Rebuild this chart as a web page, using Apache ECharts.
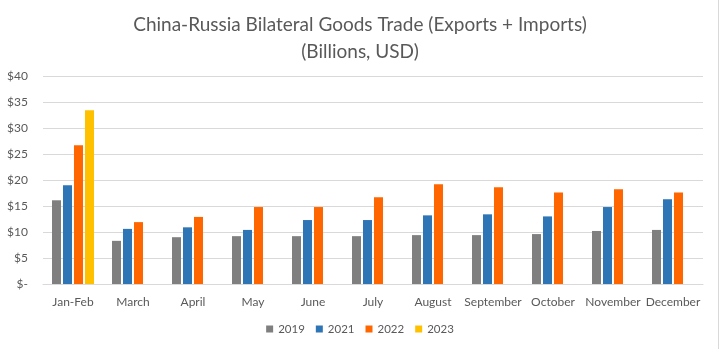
<!DOCTYPE html>
<html>
<head>
<meta charset="utf-8">
<script src="https://cdn.jsdelivr.net/npm/echarts@6/dist/echarts.min.js"></script>
<style>
  html, body { margin: 0; padding: 0; background: #fff; }
  #chart { width: 720px; height: 349px; }
</style>
</head>
<body>
<div id="chart"></div>
<script>
// Monthly China-Russia goods trade, billions of USD
const months = ['Jan-Feb', 'March', 'April', 'May', 'June', 'July', 'August', 'September', 'October', 'November', 'December'];
const trade2019 = [16.1, 8.3, 9.0, 9.2, 9.2, 9.2, 9.4, 9.4, 9.6, 10.2, 10.4];
const trade2021 = [19.0, 10.6, 10.9, 10.4, 12.3, 12.3, 13.2, 13.4, 13.0, 14.8, 16.3];
const trade2022 = [26.7, 11.9, 12.9, 14.8, 14.8, 16.7, 19.2, 18.6, 17.6, 18.2, 17.6];
const trade2023 = [33.4, null, null, null, null, null, null, null, null, null, null];

const seriesNames = ['2019', '2021', '2022', '2023'];
const seriesData = [trade2019, trade2021, trade2022, trade2023];
const colors = ['#7f7f7f', '#2e75b6', '#ff6600', '#ffc000'];

const font = 'Lato, "Open Sans", sans-serif';
const chart = echarts.init(document.getElementById('chart'));

chart.setOption({
  animation: false,
  color: colors,
  title: {
    text: 'China-Russia Bilateral Goods Trade (Exports + Imports)\n(Billions, USD)',
    left: 'center',
    top: 6,
    textStyle: { fontFamily: font, fontSize: 19, fontWeight: 'normal', color: '#595959', lineHeight: 27 }
  },
  legend: {
    bottom: 9,
    left: 'center',
    itemWidth: 7,
    itemHeight: 7,
    itemGap: 11,
    icon: 'rect',
    textStyle: { fontFamily: font, fontSize: 11.5, color: '#595959' },
    data: seriesNames
  },
  grid: { left: 43, right: 17, top: 76, bottom: 65 },
  xAxis: {
    type: 'category',
    data: months,
    axisLine: { lineStyle: { color: '#d9d9d9' } },
    axisTick: { show: false },
    axisLabel: { interval: 0, fontFamily: font, fontSize: 12, color: '#595959', margin: 12 }
  },
  yAxis: {
    type: 'value',
    min: 0,
    max: 40,
    interval: 5,
    axisLine: { show: false },
    axisTick: { show: false },
    splitLine: { lineStyle: { color: '#d9d9d9' } },
    axisLabel: {
      fontFamily: font, fontSize: 12, color: '#595959', margin: 15,
      formatter: v => v === 0 ? '$-' : '$' + v
    }
  },
  series: seriesData.map((d, i) => ({
    name: seriesNames[i],
    type: 'bar',
    data: d,
    barGap: '22%',
    barCategoryGap: '30%'
  })),
  graphic: [{
    type: 'rect',
    shape: { x: 718, y: 0, width: 1, height: 349 },
    style: { fill: '#d9d9d9' }
  }]
});
</script>
</body>
</html>
